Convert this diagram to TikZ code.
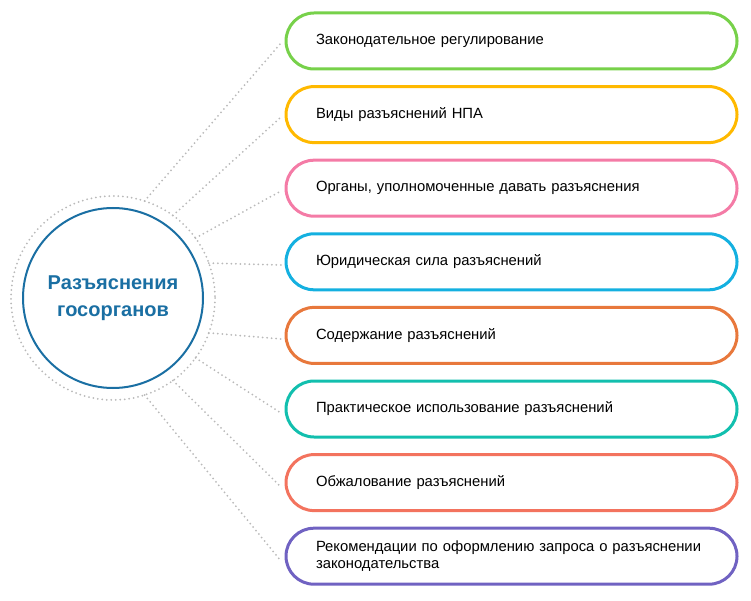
\documentclass[tikz,border=0pt]{standalone}
\usepackage{fontspec}
\setmainfont{Liberation Sans}
\usetikzlibrary{calc,shadows}
\definecolor{cgreen}{HTML}{77D14A}
\definecolor{cyellow}{HTML}{FFB900}
\definecolor{cpink}{HTML}{F47BA6}
\definecolor{cblue}{HTML}{14B0E0}
\definecolor{corange}{HTML}{E8783C}
\definecolor{cteal}{HTML}{12BFAE}
\definecolor{csalmon}{HTML}{F3735E}
\definecolor{cpurple}{HTML}{7062C2}
\definecolor{ctitle}{HTML}{1A6FA3}
\begin{document}
\begin{tikzpicture}[
    x=1pt, y=-1pt,
    topic/.style={draw=#1, line width=3pt, rounded corners=28pt, minimum width=451pt,
      minimum height=56pt, text width=391pt, align=left, inner xsep=30pt, inner ysep=0pt,
      font=\fontsize{14.8}{17.5}\selectfont},
    link/.style={draw=gray!55, line width=2pt, dash pattern=on 0pt off 4.5pt, line cap=round},
    hub/.style={circle, draw=ctitle, line width=2pt, fill=white, minimum size=180pt,
      drop shadow={shadow xshift=0pt, shadow yshift=0pt, opacity=0.25, fill=gray}}
]
\useasboundingbox (0,0) rectangle (751,601);

% Centre
\draw[link] (113,298) circle (102);
\node[hub, align=center, text=ctitle, font=\bfseries\fontsize{20}{27}\selectfont] (hub) at (113,298) {Разъяснения\\госорганов};

% Topics
\foreach \i/\c/\a/\t in {1/cgreen/72/Законодательное регулирование,
    2/cyellow/54/Виды разъяснений НПА,
    3/cpink/36/{Органы, уполномоченные давать разъяснения},
    4/cblue/20/Юридическая сила разъяснений,
    5/corange/-20/Содержание разъяснений,
    6/cteal/-36/Практическое использование разъяснений,
    7/csalmon/-54/Обжалование разъяснений,
    8/cpurple/-72/Рекомендации по оформлению запроса о разъяснении\\законодательства}
{
  \node[topic=\c] (T\i) at (511.5,{41+73.6*(\i-1)}) {\t};
  \coordinate (E\i) at (280,{298-102*sin(\a)+(\i<5?-1:1)*0});
  \coordinate (S\i) at ($(hub.center)+({102*cos(\a)},{-102*sin(\a)})$);
  \coordinate (E\i) at (281,{43+74*(\i-1)});
  \draw[link] (S\i) -- (E\i);
}

\end{tikzpicture}
\end{document}
